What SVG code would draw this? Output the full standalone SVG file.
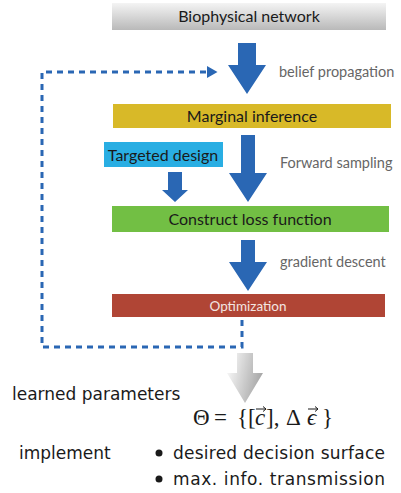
<svg xmlns="http://www.w3.org/2000/svg" width="401" height="493" viewBox="0 0 401 493">
<defs>
<linearGradient id="gBio" x1="0" y1="0" x2="0" y2="1">
<stop offset="0" stop-color="#f4f4f4"/>
<stop offset="1" stop-color="#b9b9b9"/>
</linearGradient>
<linearGradient id="gOut" x1="0" y1="0" x2="1" y2="0.3">
<stop offset="0" stop-color="#ffffff"/>
<stop offset="1" stop-color="#a9a9a9"/>
</linearGradient>
<marker id="dashHead" markerWidth="4" markerHeight="4" refX="0" refY="2" orient="auto" markerUnits="strokeWidth">
<path d="M0,0 L3.5,2 L0,4 Z" fill="#2a67b4"/>
</marker>
<style>
.box{font-family:Lato,"Open Sans",sans-serif;font-size:16px;fill:#1a1a1a;text-anchor:middle}
.lbl{font-family:Lato,"Open Sans",sans-serif;font-size:14.5px;fill:#666}
.arr{fill:#2a67b4}
.cm{font-family:"DejaVu Sans","Liberation Sans",sans-serif;font-size:17px;fill:#1a1a1a}
.math{font-family:"Liberation Serif","DejaVu Serif",serif;font-size:23px;fill:#1a1a1a}
</style>
</defs>
<g id="connectors">
<path d="M242,320 V347 H42 V72 H207" fill="none" stroke="#2a67b4" stroke-width="3" stroke-dasharray="6 5" marker-end="url(#dashHead)"/>
<path class="arr" d="M238,43 H256 V65 H266 L247,94 L228,65 H238 Z"/>
<path class="arr" d="M241,135 H255 V173 H267 L248,202 L229,173 H241 Z"/>
<path class="arr" d="M168,172 H182 V190 H188 L175,202 L162,190 H168 Z"/>
<path class="arr" d="M241,240 H255 V262 H267 L248,291 L229,262 H241 Z"/>
<path d="M237,353 H253 V373 H263 L245,403 L227,373 H237 Z" fill="url(#gOut)"/>
<text class="lbl" x="279" y="77">belief propagation</text>
<text class="lbl" x="280" y="168">Forward sampling</text>
<text class="lbl" x="280" y="267">gradient descent</text>
</g>
<g id="biophysical">
<rect x="112" y="3" width="274" height="27" fill="url(#gBio)"/>
<text class="box" x="249" y="22">Biophysical network</text>
</g>
<g id="marginal">
<rect x="113" y="104" width="278" height="24" fill="#d8b928"/>
<text class="box" x="252" y="122">Marginal inference</text>
</g>
<g id="targeted">
<rect x="104" y="142" width="119" height="25" fill="#29aee3"/>
<text class="box" x="163" y="161">Targeted design</text>
</g>
<g id="loss">
<rect x="112" y="206" width="277" height="26" fill="#72bf44"/>
<text class="box" x="250" y="225">Construct loss function</text>
</g>
<g id="optimization">
<rect x="112" y="294" width="273" height="23" fill="#b04535"/>
<text class="box" x="248" y="310.5" style="font-size:13.5px;fill:#f3e6e2">Optimization</text>
</g>
<g id="output">
<text class="cm" x="12" y="400">learned parameters</text>
<text class="math" x="193" y="425">Θ</text>
<text class="math" x="214" y="425">=</text>
<text class="math" x="237" y="425">{[</text>
<text class="math" x="255" y="425" font-style="italic">c</text>
<text class="math" x="266" y="425">],</text>
<text class="math" x="286" y="425">Δ</text>
<text class="math" x="307" y="425" font-style="italic">ϵ</text>
<text class="math" x="322" y="425">}</text>
<path d="M256,409 H266 M263,406.5 L266,409 L263,411.5 M308,409 H318 M315,406.5 L318,409 L315,411.5" fill="none" stroke="#1a1a1a" stroke-width="1"/>
<text class="cm" x="19" y="459">implement</text>
<circle cx="159" cy="453" r="3.5" fill="#1a1a1a"/>
<text class="cm" x="173" y="459" textLength="212">desired decision surface</text>
<circle cx="159" cy="479" r="3.5" fill="#1a1a1a"/>
<text class="cm" x="173" y="485" textLength="212">max. info. transmission</text>
</g>
</svg>
